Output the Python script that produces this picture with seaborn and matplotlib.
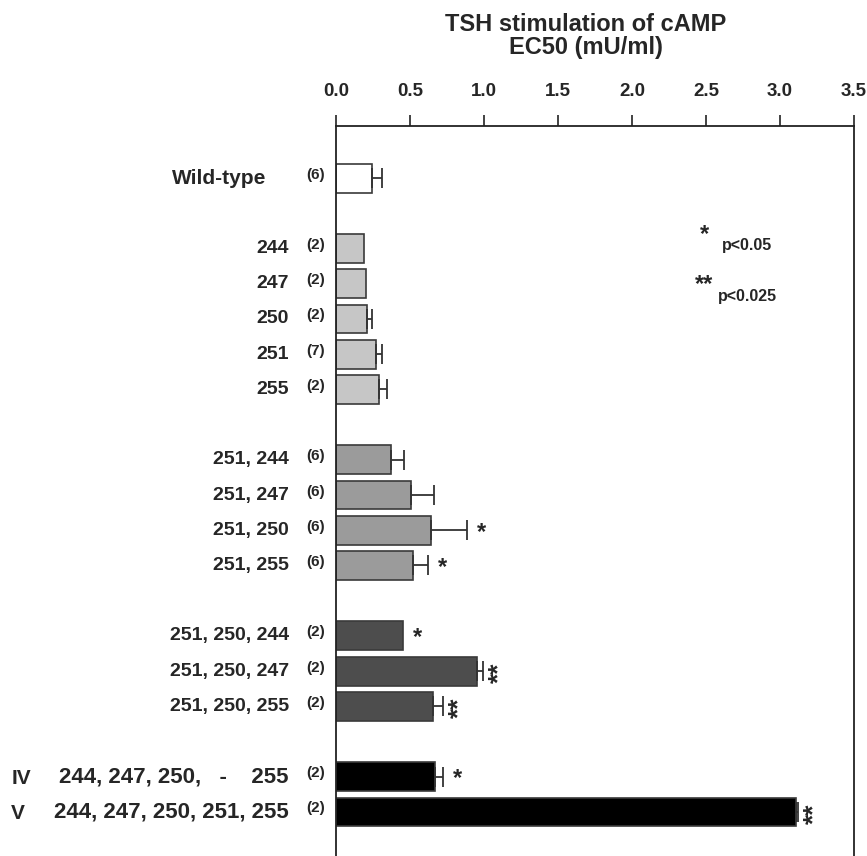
import matplotlib
matplotlib.use("Agg")
import matplotlib.pyplot as plt
import numpy as np
import pandas as pd
import seaborn as sns

mutants = ["Wild-type", "244", "247", "250", "251", "255",
           "251, 244", "251, 247", "251, 250", "251, 255",
           "251, 250, 244", "251, 250, 247", "251, 250, 255",
           "244, 247, 250,   -    255", "244, 247, 250, 251, 255"]
blocks = ["wt"] + ["single"] * 5 + ["double"] * 4 + ["triple"] * 3 + ["multi"] * 2
ec50 = [0.24, 0.19, 0.20, 0.21, 0.27, 0.29,
        0.37, 0.51, 0.64, 0.52,
        0.45, 0.95, 0.655,
        0.67, 3.11]
sem = [0.07, 0, 0, 0.03, 0.04, 0.055,
       0.09, 0.15, 0.245, 0.10,
       0, 0.04, 0.065,
       0.05, 0.01]
n_exp = ["(6)", "(2)", "(2)", "(2)", "(7)", "(2)",
         "(6)", "(6)", "(6)", "(6)",
         "(2)", "(2)", "(2)",
         "(2)", "(2)"]
signif = ["", "", "", "", "", "",
          "", "", "*", "*",
          "*", "**", "**",
          "*", "**"]
roman = {"244, 247, 250,   -    255": "IV", "244, 247, 250, 251, 255": "V"}
palette = {"wt": "white", "single": "#c6c6c6", "double": "#9b9b9b",
           "triple": "#4d4d4d", "multi": "black"}

sns.set_style("white")
plt.rcParams['font.family'] = ['Liberation Sans', 'DejaVu Sans']
plt.rcParams['font.weight'] = 'bold'

df = pd.DataFrame({"mutant": mutants, "ec50": ec50, "block": blocks})

# blank slots between the groups
order = []
for i, m in enumerate(mutants):
    if i > 0 and blocks[i] != blocks[i - 1]:
        order.append(" " * i)
    order.append(m)

fig = plt.figure(figsize=(8.67, 8.56), dpi=100)
ax = fig.add_axes([336 / 867, 0.0, 518 / 867, 1 - 126 / 856])

sns.barplot(data=df, x="ec50", y="mutant", hue="block", order=order,
            palette=palette, dodge=False, legend=False, width=0.82,
            edgecolor="#3a3a3a", linewidth=1.2, errorbar=None, ax=ax)

y = np.array([order.index(m) for m in mutants])
vals = np.array(ec50)
errs = np.array(sem)
has = errs > 0
ax.errorbar(vals[has], y[has], xerr=[np.zeros(has.sum()), errs[has]],
            fmt="none", ecolor="#333333", elinewidth=1.3, capsize=7.5,
            capthick=1.3)

tr = ax.get_yaxis_transform()
for i, m in enumerate(mutants):
    if m == "Wild-type":
        ax.text(-0.135, y[i], m, transform=tr, ha="right", va="center",
                fontsize=15, fontweight="bold")
    elif m in roman:
        ax.text(-0.091, y[i], m, transform=tr, ha="right", va="center",
                fontsize=16, fontweight="bold")
        ax.text(-0.627, y[i] + 0.05, roman[m], transform=tr, ha="left",
                va="center", fontsize=15, fontweight="bold")
    else:
        ax.text(-0.091, y[i], m, transform=tr, ha="right", va="center",
                fontsize=14, fontweight="bold")
    ax.text(-0.04, y[i] - 0.1, n_exp[i], transform=tr, ha="center",
            va="center", fontsize=11, fontweight="bold")
    if signif[i] == "*":
        ax.text(vals[i] + errs[i] + 0.1, y[i] + 0.05, "*", ha="center",
                va="center", fontsize=17, fontweight="bold")
    elif signif[i] == "**":
        ax.text(vals[i] + errs[i] + 0.11, y[i] + 0.05, "**", ha="center",
                va="center", rotation=90, fontsize=19, fontweight="bold")

# significance key
ax.text(0.712, 0.852, "*", transform=ax.transAxes, ha="center", va="center",
        fontsize=17, fontweight="bold")
ax.text(0.745, 0.836, "p<0.05", transform=ax.transAxes, ha="left",
        va="center", fontsize=11.5, fontweight="bold")
ax.text(0.711, 0.783, "**", transform=ax.transAxes, ha="center", va="center",
        fontsize=17, fontweight="bold")
ax.text(0.737, 0.767, "p<0.025", transform=ax.transAxes, ha="left",
        va="center", fontsize=11.5, fontweight="bold")

ax.set_xlim(0, 3.5)
ax.set_ylim(19.25, -1.48)
ax.xaxis.tick_top()
ax.set_xticks(np.arange(0, 3.51, 0.5))
ax.set_xticklabels([f"{t:.1f}" for t in np.arange(0, 3.51, 0.5)],
                   fontsize=13.5, fontweight="bold")
ax.tick_params(axis="x", direction="out", length=8, width=1.2,
               color="#222222", pad=11)
ax.set_yticks([])
ax.set_xlabel("")
ax.set_ylabel("")
for s in ["top", "left", "right"]:
    ax.spines[s].set_color("#222222")
    ax.spines[s].set_linewidth(1.3)
ax.spines["bottom"].set_visible(False)

fig.text(586 / 867, 0.958, "TSH stimulation of cAMP\nEC50 (mU/ml)",
         ha="center", va="center", fontsize=17, fontweight="bold",
         linespacing=1.0)

plt.savefig("out.png", dpi=100)
